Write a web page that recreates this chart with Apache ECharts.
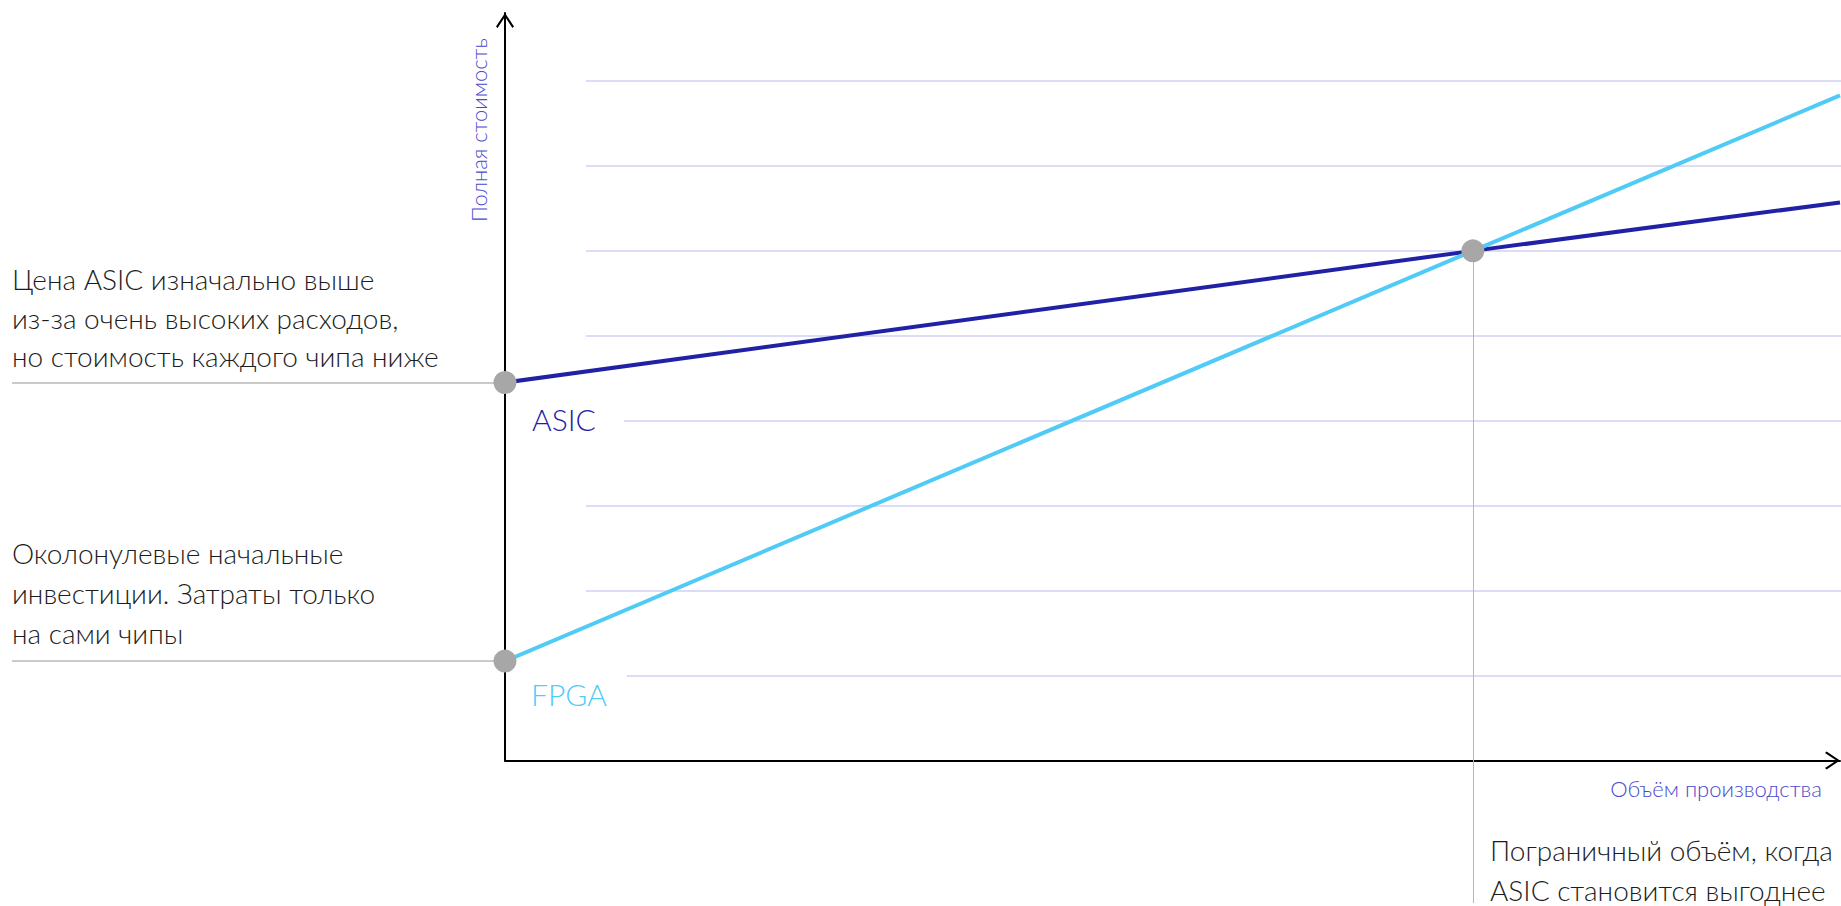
<!DOCTYPE html>
<html>
<head>
<meta charset="utf-8">
<script src="https://cdn.jsdelivr.net/npm/echarts@6/dist/echarts.min.js"></script>
<style>
  html, body { margin: 0; padding: 0; background: #ffffff; }
  #chart { width: 1841px; height: 906px; }
</style>
</head>
<body>
<div id="chart"></div>
<script>
// Total cost versus production volume for ASIC and FPGA chips.
const volume = [0, 7.25, 10];            // start, break-even volume, end of axis
const asicCost = [4.45, 6.0, 6.57];
const fpgaCost = [1.17, 6.0, 7.83];
const seriesNames = ['ASIC', 'FPGA'];
const breakEven = [7.25, 6.0];
const axisNames = { x: 'Объём производства', y: 'Полная стоимость' };
const gridLevels = { min: 1, max: 8, step: 1 };
const asicNote = ['Цена ASIC изначально выше', 'из-за очень высоких расходов,', 'но стоимость каждого чипа ниже'];
const fpgaNote = ['Околонулевые начальные', 'инвестиции. Затраты только', 'на сами чипы'];
const breakEvenNote = ['Пограничный объём, когда', 'ASIC становится выгоднее'];

// Layout
const W = 1841, H = 906;
const X0 = 505, X_END = 1840;      // origin and tip of the horizontal axis
const Y0 = 760.5;                  // pixel row of zero cost
const UNIT = 84.94;                // pixels per cost unit
const Y_MAX = 8.8;                 // top of the vertical axis
const X_MAX = 10;
const GRID_LEFT = 586;

const FONT = 'Lato, Roboto, "Noto Sans", sans-serif';
const COL_ASIC = '#2121a6';
const COL_FPGA = '#50cbf6';
const COL_AXIS_NAME = '#4a4acd';
const COL_TEXT = '#1c1c1c';
const COL_DOT = '#a7a7a7';
const COL_LEADER = '#b8b8b8';

// open chevron used as the arrow head of both axes (points up, rotated by the axis)
const CHEVRON = 'path://M9,0L18,13.4L16.4,15L9,3.6L1.6,15L0,13.4Z';

const chart = echarts.init(document.getElementById('chart'), null, { renderer: 'svg' });

const leaderStyle = { color: COL_LEADER, width: 1.5, type: 'solid' };

// one graphic text per note line, lines stacked with a fixed pitch
function noteLines(lines, left, firstCenter, pitch) {
  return lines.map((line, i) => ({
    type: 'text', left: left, top: firstCenter + i * pitch - 12, silent: true,
    style: { text: line, fill: COL_TEXT, font: '300 28px ' + FONT, lineHeight: 24 }
  }));
}

function seriesLabel(text, color, pos, padding) {
  return {
    show: true, formatter: text, position: pos, align: 'left', verticalAlign: 'middle',
    color: color, fontFamily: FONT, fontWeight: 300, fontSize: 30, lineHeight: 28,
    backgroundColor: '#ffffff', padding: padding
  };
}

const option = {
  animation: false,
  backgroundColor: '#ffffff',
  grid: [
    { left: X0, right: W - X_END, top: Y0 - Y_MAX * UNIT, bottom: H - Y0 },
    { left: GRID_LEFT, right: 0, top: Y0 - gridLevels.max * UNIT, bottom: H - (Y0 - gridLevels.min * UNIT) }
  ],
  xAxis: [
    {
      type: 'value', gridIndex: 0, min: 0, max: X_MAX,
      name: axisNames.x, nameLocation: 'end', nameGap: -18,
      nameTextStyle: {
        color: COL_AXIS_NAME, fontFamily: FONT, fontWeight: 300, fontSize: 22,
        align: 'right', verticalAlign: 'top', lineHeight: 56
      },
      axisLine: {
        show: true, onZero: false,
        lineStyle: { color: '#000000', width: 2 },
        symbol: ['none', CHEVRON], symbolSize: [18, 15], symbolOffset: [0, -7.5]
      },
      axisTick: { show: false }, axisLabel: { show: false }, splitLine: { show: false }
    },
    { type: 'value', gridIndex: 1, min: 0, max: X_MAX, show: false }
  ],
  yAxis: [
    {
      type: 'value', gridIndex: 0, min: 0, max: Y_MAX,
      name: axisNames.y, nameLocation: 'end', nameRotate: 90, nameGap: -209,
      nameTextStyle: {
        color: COL_AXIS_NAME, fontFamily: FONT, fontWeight: 300, fontSize: 22,
        align: 'left', verticalAlign: 'bottom', lineHeight: 54
      },
      axisLine: {
        show: true, onZero: false,
        lineStyle: { color: '#000000', width: 2 },
        symbol: ['none', CHEVRON], symbolSize: [18, 15], symbolOffset: [0, -7.5]
      },
      axisTick: { show: false }, axisLabel: { show: false }, splitLine: { show: false }
    },
    {
      type: 'value', gridIndex: 1, min: gridLevels.min, max: gridLevels.max, interval: gridLevels.step,
      axisLine: { show: false }, axisTick: { show: false }, axisLabel: { show: false },
      splitLine: { show: true, lineStyle: { color: '#dcdcf7', width: 2 } }
    }
  ],
  series: [
    {
      name: seriesNames[0], type: 'line', xAxisIndex: 0, yAxisIndex: 0,
      data: volume.map((v, i) => [v, asicCost[i]]),
      showSymbol: false, symbol: 'none', clip: false, z: 3,
      lineStyle: { color: COL_ASIC, width: 4 },
      markLine: {
        silent: true, symbol: 'none', label: { show: false }, lineStyle: leaderStyle,
        data: [[{ x: 12, yAxis: asicCost[0] }, { coord: [volume[0], asicCost[0]] }]]
      }
    },
    {
      name: seriesNames[1], type: 'line', xAxisIndex: 0, yAxisIndex: 0,
      data: volume.map((v, i) => [v, fpgaCost[i]]),
      showSymbol: false, symbol: 'none', clip: false, z: 3,
      lineStyle: { color: COL_FPGA, width: 4 },
      markLine: {
        silent: true, symbol: 'none', label: { show: false }, lineStyle: leaderStyle,
        data: [
          [{ x: 12, yAxis: fpgaCost[0] }, { coord: [volume[0], fpgaCost[0]] }],
          [{ coord: breakEven, lineStyle: { width: 1 } }, { xAxis: breakEven[0], y: 903 }]
        ]
      }
    },
    {
      name: 'points', type: 'scatter', xAxisIndex: 0, yAxisIndex: 0,
      symbolSize: 23, z: 5, clip: false,
      itemStyle: { color: COL_DOT, opacity: 1 },
      data: [
        { value: [volume[0], asicCost[0]], label: seriesLabel(seriesNames[0], COL_ASIC, [24.5, 47.5], [8, 28, 8, 14]) },
        { value: [volume[0], fpgaCost[0]], label: seriesLabel(seriesNames[1], COL_FPGA, [23.5, 44.5], [10, 20, 10, 14]) },
        { value: breakEven }
      ]
    }
  ],
  graphic: [].concat(
    noteLines(asicNote, 12, 277, 38.7),
    noteLines(fpgaNote, 12, 551, 40),
    noteLines(breakEvenNote, 1490, 848, 40)
  )
};

chart.setOption(option);
</script>
</body>
</html>
